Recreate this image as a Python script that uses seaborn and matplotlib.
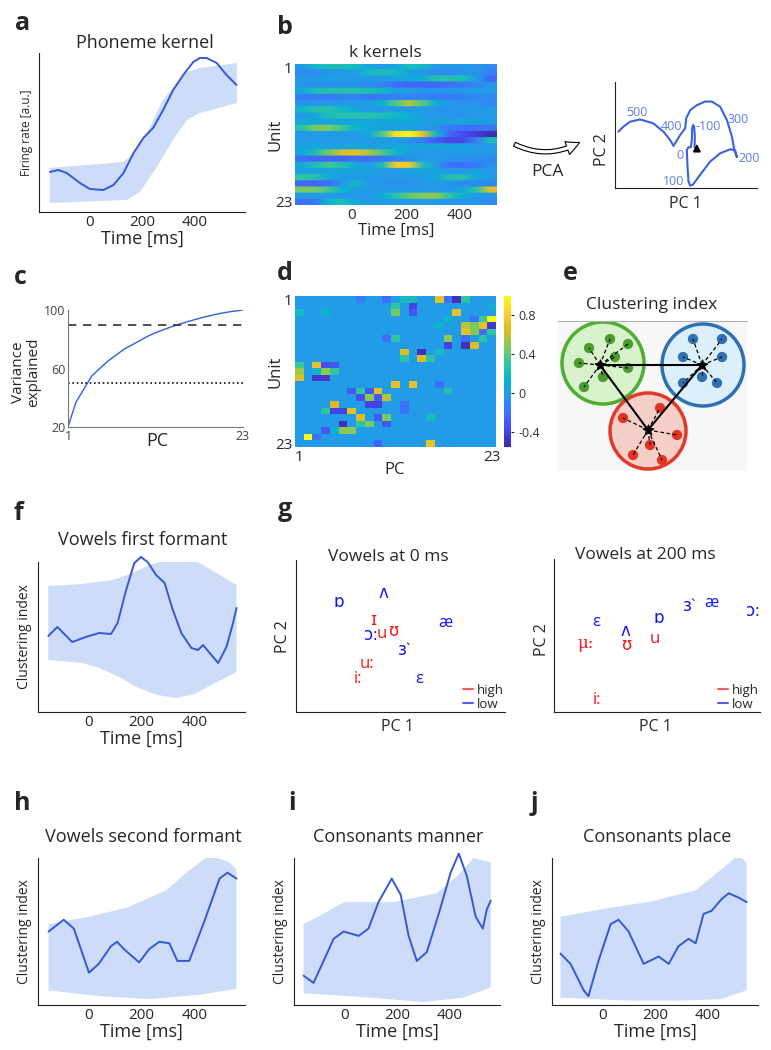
import numpy as np
import seaborn as sns
import matplotlib.pyplot as plt
from matplotlib.colors import LinearSegmentedColormap
from matplotlib.patches import Circle, FancyArrowPatch
from matplotlib.lines import Line2D

sns.set_style("white")
plt.rcParams['font.family'] = ['Open Sans', 'DejaVu Sans']

W, H = 771, 1050
LINE = '#3558d6'
BAND = '#cddcf8'
RED = '#ff1414'
BLUE = '#1414ff'

# ---------------- data ----------------
# a: phoneme kernel
a_time = [-149, -117, -85, -35, 3, 54, 92, 130, 168, 205, 242, 280, 318, 356, 394, 419, 445, 483, 520, 558]
a_rate = [40, 42, 39, 29, 23, 22, 27, 39, 59, 74, 84, 102, 122, 137, 150, 154, 154, 149, 137, 127]
a_up_time = [-149, 128, 154, 219, 279, 332, 370, 419, 559]
a_up = [44, 50, 55, 79, 112, 129, 140, 144, 149]
a_lo_time = [-149, 143, 192, 256, 317, 370, 419, 559]
a_lo = [9, 12, 20, 45, 72, 92, 99, 109]

# b: kernels of 23 units (columns every ~50 ms from -200 to 500)
kernel_map = [
    [-0.3, -0.05, 0.0, 0.0, -0.05, -0.25, -0.3, -0.2, 0.0, -0.05, -0.3, -0.3, -0.3, -0.35, -0.4],
    [-0.4, -0.4, -0.35, -0.3, -0.25, -0.05, 0.0, -0.05, -0.25, -0.35, -0.4, -0.4, -0.35, -0.35, -0.45],
    [-0.3, -0.3, -0.25, -0.3, -0.3, -0.3, -0.3, -0.25, -0.2, -0.15, 0.05, 0.05, 0.0, -0.3, -0.6],
    [-0.35, -0.35, -0.35, -0.35, -0.35, -0.4, -0.45, -0.55, -0.6, -0.6, -0.6, -0.55, -0.5, -0.4, -0.35],
    [-0.2, 0.0, 0.05, 0.05, 0.05, 0.0, -0.05, -0.25, -0.3, -0.35, -0.35, -0.3, -0.3, -0.3, -0.3],
    [-0.45, -0.5, -0.5, -0.45, -0.45, -0.5, -0.5, -0.45, -0.4, -0.45, -0.5, -0.5, -0.45, -0.4, -0.4],
    [-0.35, -0.35, -0.3, -0.3, -0.3, -0.25, -0.1, 0.2, 0.45, 0.2, -0.15, -0.3, -0.35, -0.35, -0.4],
    [-0.05, 0.05, 0.05, -0.05, -0.2, -0.3, -0.3, -0.3, -0.3, -0.3, -0.35, -0.35, -0.3, -0.3, -0.3],
    [-0.3, -0.2, 0.0, 0.05, 0.05, 0.05, 0.0, -0.05, -0.15, -0.3, -0.3, -0.35, -0.35, -0.3, -0.3],
    [-0.2, -0.2, -0.25, -0.25, -0.2, -0.2, -0.2, -0.2, -0.2, -0.25, -0.25, -0.25, -0.2, -0.25, -0.3],
    [0.05, 0.3, 0.3, 0.15, -0.1, -0.2, -0.25, -0.25, -0.25, -0.3, -0.35, -0.5, -0.55, -0.55, -0.5],
    [-0.3, -0.3, -0.3, -0.3, -0.3, -0.2, 0.2, 0.85, 1.0, 0.6, -0.1, -0.6, -0.75, -0.85, -0.95],
    [-0.3, -0.3, -0.3, -0.3, -0.3, -0.3, -0.3, -0.3, -0.35, -0.5, -0.65, -0.8, -0.75, -0.45, 0.0],
    [-0.25, -0.2, -0.25, -0.25, -0.2, -0.25, -0.25, -0.2, -0.25, -0.25, -0.2, -0.25, -0.25, -0.3, -0.3],
    [-0.2, 0.0, 0.3, 0.55, 0.6, 0.45, 0.2, -0.1, -0.25, -0.3, -0.3, -0.3, -0.3, -0.3, -0.3],
    [-0.55, -0.6, -0.6, -0.6, -0.55, -0.55, -0.5, -0.45, -0.35, -0.3, -0.3, -0.35, -0.35, -0.35, -0.4],
    [-0.2, 0.0, 0.15, 0.05, -0.2, -0.3, 0.0, 0.75, 0.7, 0.0, -0.3, -0.55, -0.55, -0.5, -0.35],
    [-0.25, -0.25, -0.2, -0.2, -0.25, -0.25, -0.3, -0.3, -0.25, -0.2, -0.25, -0.3, -0.3, -0.25, -0.3],
    [0.1, 0.05, -0.2, -0.3, -0.3, -0.3, -0.3, -0.3, -0.3, -0.3, -0.2, 0.05, 0.05, -0.2, -0.3],
    [-0.6, -0.6, -0.55, -0.35, -0.05, -0.3, -0.35, -0.35, -0.35, -0.3, -0.3, -0.35, -0.4, -0.4, -0.4],
    [0.3, 0.3, 0.15, -0.1, -0.25, -0.3, -0.3, -0.3, -0.3, -0.3, -0.3, -0.3, -0.2, 0.1, 0.6],
    [-0.3, -0.3, -0.3, -0.3, -0.3, -0.3, -0.2, 0.05, 0.25, 0.35, 0.35, 0.1, -0.15, -0.3, -0.3],
    [-0.55, -0.5, -0.1, 0.0, -0.2, -0.3, -0.3, -0.3, -0.3, -0.3, -0.3, -0.35, -0.35, -0.35, -0.4],
]

# b inset: trajectory in PC space and time labels
traj_pc1 = [583, 584, 582, 579, 576, 575, 572, 565, 560, 562, 565, 570, 578, 600, 630, 660, 690, 705, 710,
            702, 695, 680, 660, 635, 615, 590, 570, 558, 555, 540, 520, 510, 490, 460, 420, 390, 370, 355]
traj_pc2 = [123, 155, 185, 190, 180, 145, 123, 123, 115, 65, 20, 7, 10, 40, 80, 105, 117, 113, 93,
            115, 155, 205, 245, 261, 261, 250, 235, 210, 180, 160, 127, 145, 170, 195, 207, 200, 185, 170]
traj_labels = ['500', '400', '-100', '300', '0', '200', '100']
traj_lab_pc1 = [410, 515, 625, 715, 540, 745, 520]
traj_lab_pc2 = [227, 187, 187, 208, 97, 90, 20]

# c: cumulative variance explained
c_pc = list(range(1, 24))
c_var = [20, 37, 46, 55, 60, 65, 69, 73, 76, 79, 82, 84.5, 86.5, 88.5, 90.3, 92, 93.5, 95, 96.3, 97.5, 98.5, 99.3, 100]

# d: loadings (unit x PC), non-background cells
d_rows = [0, 0, 0, 0, 0, 0, 0, 0, 1, 1, 1, 2, 2, 2, 2, 2, 3, 3, 3, 3, 4, 4, 4, 4, 4,
          5, 5, 5, 5, 6, 6, 6, 6, 6, 7, 7, 7, 8, 8, 8, 9, 9, 9,
          10, 10, 10, 10, 11, 11, 11, 11, 12, 12, 12, 13, 13, 13,
          14, 14, 14, 14, 14, 15, 15, 15, 15, 16, 16, 16, 16, 17, 17, 17, 17, 17,
          18, 18, 18, 18, 19, 19, 19, 19, 20, 20, 20, 20, 21, 21, 22, 22]
d_cols = [7, 10, 12, 13, 16, 17, 18, 19, 11, 13, 22, 0, 3, 11, 13, 18, 17, 20, 21, 22, 16, 19, 20, 21, 22,
          19, 20, 21, 22, 10, 11, 17, 19, 21, 17, 19, 20, 12, 14, 16, 12, 14, 15,
          0, 2, 3, 4, 0, 2, 3, 4, 0, 2, 3, 11, 13, 16,
          6, 7, 8, 9, 17, 7, 8, 9, 10, 4, 8, 9, 12, 3, 4, 5, 6, 12,
          7, 9, 10, 15, 5, 7, 8, 10, 3, 4, 5, 6, 1, 2, 9, 15]
d_vals = [-0.15, -0.2, 0.2, 0.2, 0.7, -0.2, -0.5, 0.3, 0.3, -0.4, 0.1, 0.2, 0.15, 0.45, -0.3, 0.7, 0.15, -0.2, 0.35, 1.0,
          0.15, 0.6, 0.45, 0.7, -0.45,
          0.7, 0.5, -0.2, 0.3, -0.2, 0.3, 0.5, -0.2, 0.3, -0.4, -0.5, 0.65, 0.65, -0.5, 0.2, 0.3, 0.65, 0.3,
          0.35, 0.7, -0.35, -0.3, 0.55, 0.15, 0.5, 0.3, 0.65, -0.45, -0.45, 0.7, 0.7, -0.2,
          -0.3, 0.3, -0.3, 0.7, 0.25, -0.35, 0.5, -0.3, 0.6, 0.65, -0.4, -0.4, -0.2, 0.3, -0.4, -0.4, 0.7, -0.2,
          0.65, -0.3, 0.45, 0.2, -0.5, 0.3, 0.45, -0.3, -0.3, 0.15, 0.5, 0.5, 1.0, -0.2, -0.25, 0.7]

# e: clustering schematic (pixel coordinates)
clusters = {
    'green': dict(center=(600, 365), circle=(603, 363, 41), fill='#d8f2cb', edge='#4eae32', dot='#4a9c2c',
                  x=[589, 610, 628, 579, 615, 628, 603, 584], y=[348, 339, 344, 363, 357, 368, 377, 387]),
    'blue': dict(center=(702, 365), circle=(703, 365, 41), fill='#dcf0fb', edge='#2f6fb5', dot='#2f6fb5',
                 x=[693, 722, 683, 722, 702, 683, 717], y=[339, 339, 357, 357, 377, 383, 383]),
    'red': dict(center=(648, 430), circle=(648, 431, 38), fill='#f6cfc8', edge='#e23a2a', dot='#e03424',
                x=[623, 660, 677, 650, 633, 662], y=[418, 408, 435, 445, 455, 460]),
}

# f: vowels first formant
f_time = [-151, -117, -61, -10, 41, 85, 110, 142, 173, 198, 223, 255, 287, 318, 350, 388, 413, 432, 457, 489, 520, 545, 558]
f_ci = [76, 85, 70, 75, 79, 78, 89, 122, 149, 155, 150, 137, 129, 102, 79, 64, 62, 67, 59, 49, 65, 89, 104]
f_up_time = [-151, -23, 91, 167, 230, 293, 356, 419, 483, 558]
f_up = [126, 128, 132, 139, 147, 152, 154, 149, 139, 127]
f_lo_time = [-151, -23, 41, 117, 180, 260, 330, 400, 470, 558]
f_lo = [52, 49, 44, 35, 25, 17, 14, 18, 28, 40]

# g: vowels in PC space
g0_labels = ['ɒ', 'ʌ', 'ɪ', 'ɔ:', 'u', 'ʊ', 'æ', 'ɜ`', 'u:', 'i:', 'ε']
g0_pc1 = [43, 87, 78, 75, 85.5, 97, 149, 109, 71, 62, 123]
g0_pc2 = [109, 118, 91, 76, 78, 80, 89, 61, 48, 33, 33]
g0_height = ['low', 'low', 'high', 'low', 'high', 'high', 'low', 'low', 'high', 'high', 'low']
g1_labels = ['ε', 'ʊ', 'ʌ', 'u', 'ɒ', 'ɜ`', 'æ', 'ɔ:', 'μ:', 'i:']
g1_pc1 = [42, 72, 71, 101, 105, 136, 157, 199, 32, 43]
g1_pc2 = [90, 66, 80, 73, 93, 105, 109, 100, 69, 12]
g1_height = ['low', 'high', 'low', 'high', 'low', 'low', 'low', 'low', 'high', 'high']

# h, i, j: clustering index
h_time = [-150, -93, -55, 2, 39, 85, 108, 134, 191, 229, 267, 305, 335, 380, 437, 494, 524, 558]
h_ci = [0.50, 0.58, 0.52, 0.22, 0.28, 0.40, 0.43, 0.38, 0.29, 0.38, 0.43, 0.42, 0.30, 0.30, 0.57, 0.86, 0.90, 0.86]
h_up_time = [-150, 0, 142, 293, 369, 456, 532, 558]
h_up = [0.55, 0.60, 0.66, 0.78, 0.90, 1.02, 0.97, 0.92]
h_lo_time = [-150, 39, 229, 420, 558]
h_lo = [0.10, 0.06, 0.04, 0.07, 0.11]

i_time = [-154, -116, -78, -40, -2, 55, 92, 130, 180, 214, 244, 275, 313, 358, 403, 434, 464, 498, 525, 540, 555]
i_ci = [0.20, 0.15, 0.30, 0.45, 0.50, 0.47, 0.52, 0.70, 0.86, 0.75, 0.47, 0.30, 0.36, 0.62, 0.90, 1.03, 0.88, 0.60, 0.52, 0.65, 0.71]
i_up_time = [-154, -80, 0, 187, 350, 430, 490, 555]
i_up = [0.55, 0.62, 0.70, 0.70, 0.76, 0.88, 1.00, 0.97]
i_lo_time = [-154, 100, 300, 450, 555]
i_lo = [0.08, 0.05, 0.02, 0.05, 0.12]

j_time = [-158, -120, -70, -52, -14, 32, 62, 100, 157, 214, 252, 289, 327, 354, 384, 414, 452, 479, 517, 547]
j_ci = [0.35, 0.28, 0.10, 0.06, 0.30, 0.55, 0.58, 0.50, 0.28, 0.33, 0.28, 0.40, 0.45, 0.42, 0.62, 0.64, 0.72, 0.76, 0.73, 0.70]
j_up_time = [-158, 24, 175, 354, 450, 516, 547]
j_up = [0.60, 0.66, 0.70, 0.78, 0.92, 1.02, 0.97]
j_lo_time = [-158, 100, 300, 450, 547]
j_lo = [0.05, 0.03, 0.03, 0.04, 0.10]

parula = LinearSegmentedColormap.from_list('parula', [
    (0.2422, 0.1504, 0.6603), (0.2803, 0.2782, 0.9221), (0.2440, 0.4358, 0.9988),
    (0.1540, 0.5902, 0.9218), (0.0297, 0.7082, 0.8163), (0.1938, 0.7758, 0.6251),
    (0.5044, 0.7993, 0.3480), (0.8634, 0.7406, 0.1596), (0.9892, 0.8136, 0.1885),
    (0.9769, 0.9839, 0.0805)])

fig = plt.figure(figsize=(W / 100, H / 100), dpi=100)


def add_ax(x0, y0, x1, y1):
    return fig.add_axes([x0 / W, 1 - y1 / H, (x1 - x0) / W, (y1 - y0) / H])


def ftext(x, y, s, **kw):
    kw.setdefault('ha', 'center')
    kw.setdefault('va', 'center')
    return fig.text(x / W, 1 - y / H, s, **kw)


def time_panel(rect, t, v, ut, uv, lt, lv, ytop, ylab, ylab_size=10):
    ax = add_ax(*rect)
    ax.fill(np.r_[ut, lt[::-1]], np.r_[uv, lv[::-1]], color=BAND, lw=0)
    sns.lineplot(x=t, y=v, ax=ax, color=LINE, lw=1.4, estimator=None, sort=False)
    for ln in ax.lines:
        ln.set_clip_on(False)
    ax.set_xlim(-190, 590)
    ax.set_ylim(0, ytop)
    ax.set_xticks([0, 200, 400])
    ax.set_yticks([])
    ax.tick_params(axis='x', length=0, labelsize=11, pad=2)
    for s in ['top', 'right']:
        ax.spines[s].set_visible(False)
    for s in ['left', 'bottom']:
        ax.spines[s].set_color('#222222')
    ax.set_xlabel('Time [ms]', fontsize=13, labelpad=0)
    ax.set_ylabel(ylab, fontsize=ylab_size, labelpad=4)
    return ax


# --------- a ---------
time_panel((39, 53, 245, 212), a_time, a_rate, a_up_time, a_up, a_lo_time, a_lo, 159, 'Firing rate [a.u.]', 8.5)
ftext(145, 43, 'Phoneme kernel', fontsize=13)

# --------- b ---------
ax_b = add_ax(295, 64, 497, 205)
ax_b.imshow(np.repeat(np.array(kernel_map), 8, axis=0), aspect='auto', cmap=parula, vmin=-1, vmax=1,
            extent=[-210, 537, 23.5, 0.5], interpolation='bilinear')
ax_b.set_xticks([0, 200, 400])
ax_b.set_yticks([1, 23])
ax_b.set_yticklabels(['1', '23'])
ax_b.tick_params(labelsize=11, length=2, direction='in', pad=2)
for s in ax_b.spines.values():
    s.set_visible(False)
ax_b.set_xlabel('Time [ms]', fontsize=12, labelpad=0)
ax_b.set_ylabel('Unit', fontsize=12, labelpad=-6)
ftext(385, 53, 'k kernels', fontsize=12.5)

# PCA arrow
arrow = FancyArrowPatch((512 / W, 1 - 143 / H), (582 / W, 1 - 141 / H), transform=fig.transFigure,
                        connectionstyle='arc3,rad=0.28',
                        arrowstyle='simple,head_width=0.7,head_length=0.7,tail_width=0.22',
                        mutation_scale=14, fc='white', ec='black', lw=0.8)
fig.add_artist(arrow)
ftext(547, 172, 'PCA', fontsize=12.5)

ax_p = add_ax(615, 82, 757, 188)
sns.lineplot(x=traj_pc1, y=traj_pc2, ax=ax_p, color='#3a62e0', lw=1.5, sort=False, estimator=None)
for lab, x, y in zip(traj_labels, traj_lab_pc1, traj_lab_pc2):
    ax_p.text(x, y, lab, color='#5b7fe6', fontsize=9, ha='center', va='center')
ax_p.annotate('', xy=(590, 142), xytext=(590, 112),
              arrowprops=dict(arrowstyle='-|>', color='black', lw=1.2, mutation_scale=11))
ax_p.set_xlim(345, 770)
ax_p.set_ylim(0, 320)
ax_p.set_xticks([])
ax_p.set_yticks([65, 160, 255])
ax_p.tick_params(axis='y', direction='in', length=3, labelleft=False, color='#222')
for s in ['top', 'right']:
    ax_p.spines[s].set_visible(False)
for s in ['left', 'bottom']:
    ax_p.spines[s].set_color('#222222')
ftext(602, 150, 'PC 2', fontsize=11.5, rotation=90)
ftext(685, 204, 'PC 1', fontsize=11.5)

# --------- c ---------
ax_c = add_ax(68, 310, 243, 427)
sns.lineplot(x=c_pc, y=c_var, ax=ax_c, color='#2f5fe8', lw=1.0)
ax_c.axhline(90, ls=(0, (5, 4)), color='#333333', lw=1.2)
ax_c.axhline(50, ls=(0, (1, 1.6)), color='#111111', lw=1.2)
ax_c.set_xlim(1, 23)
ax_c.set_ylim(20, 100)
ax_c.set_xticks([1, 23])
ax_c.set_yticks([20, 60, 100])
ax_c.tick_params(labelsize=9, labelcolor='#444444', length=0, pad=2)
for s in ['top', 'right']:
    ax_c.spines[s].set_visible(False)
for s in ['left', 'bottom']:
    ax_c.spines[s].set_color('#777777')
ftext(157, 441, 'PC', fontsize=13)
ftext(26, 372, 'Variance\nexplained', fontsize=11, rotation=90, linespacing=1.05)

# --------- d ---------
loadings = np.zeros((23, 23))
loadings[d_rows, d_cols] = d_vals
ax_d = add_ax(295, 296, 496, 447)
cax = add_ax(504, 296, 511, 447)
sns.heatmap(loadings, ax=ax_d, cbar_ax=cax, cmap=parula, vmin=-0.55, vmax=1.0,
            xticklabels=False, yticklabels=False)
ax_d.set_xticks([0.5, 22.5])
ax_d.set_xticklabels(['1', '23'])
ax_d.set_yticks([0.5, 22.5])
ax_d.set_yticklabels(['1', '23'], rotation=0)
ax_d.tick_params(labelsize=11, length=0, pad=2)
ax_d.set_ylabel('Unit', fontsize=12, labelpad=-6)
ftext(395, 470, 'PC', fontsize=12)
cax.set_yticks([-0.4, 0, 0.4, 0.8])
cax.set_yticklabels(['-0.4', '0', '0.4', '0.8'])
cax.tick_params(labelsize=9, length=2, labelcolor='#333333')

# --------- e ---------
ax_e = add_ax(558, 321, 747, 471)
ax_e.set_facecolor('#f7f7f7')
ax_e.set_xlim(558, 747)
ax_e.set_ylim(471, 321)
for s in ['left', 'right', 'bottom']:
    ax_e.spines[s].set_visible(False)
ax_e.spines['top'].set_color('#b0b0b0')
ax_e.set_xticks([])
ax_e.set_yticks([])
for name, cl in clusters.items():
    cx, cy, r = cl['circle']
    ax_e.add_patch(Circle((cx, cy), r, fc=cl['fill'], ec=cl['edge'], lw=2.5, zorder=1))
    sns.scatterplot(x=cl['x'], y=cl['y'], ax=ax_e, color=cl['dot'], s=55, edgecolor='none', zorder=3)
    ccx, ccy = cl['center']
    for x, y in zip(cl['x'], cl['y']):
        ax_e.plot([ccx, x], [ccy, y], ls=(0, (3, 2)), color='black', lw=0.9, zorder=4)
    ax_e.scatter([ccx], [ccy], marker='*', s=60, color='black', zorder=5)
centers = [clusters['green']['center'], clusters['blue']['center'], clusters['red']['center']]
for k1, k2 in [(0, 1), (0, 2), (2, 1)]:
    ax_e.plot([centers[k1][0], centers[k2][0]], [centers[k1][1], centers[k2][1]], color='black', lw=1.5, zorder=4)
ftext(652, 305, 'Clustering index', fontsize=12.5)

# --------- f ---------
time_panel((38, 562, 245, 712), f_time, f_ci, f_up_time, f_up, f_lo_time, f_lo, 150, 'Clustering index', 10)
ftext(143, 540, 'Vowels first formant', fontsize=13)


# --------- g ---------
def vowel_panel(rect, labels, pc1, pc2, height, xmax, ymax):
    ax = add_ax(*rect)
    for lab, x, y, hgt in zip(labels, pc1, pc2, height):
        fam = ['DejaVu Serif'] if lab.startswith('μ') else ['Open Sans', 'DejaVu Sans']
        ax.text(x, y, lab, color=RED if hgt == 'high' else BLUE, fontsize=12, ha='center', va='center',
                family=fam)
    ax.set_xlim(0, xmax)
    ax.set_ylim(0, ymax)
    ax.set_xticks([])
    ax.set_yticks([])
    for s in ['top', 'right']:
        ax.spines[s].set_visible(False)
    for s in ['left', 'bottom']:
        ax.spines[s].set_color('#222222')
    handles = [Line2D([0], [0], color='#ff5a5a', lw=1.5), Line2D([0], [0], color='#5a5aff', lw=1.5)]
    ax.legend(handles, ['high', 'low'], loc='lower right', frameon=False, fontsize=9.5, handlelength=0.7,
              handletextpad=0.3, labelspacing=0.05, borderaxespad=0.0, borderpad=0.1)
    return ax


vowel_panel((296, 560, 505, 712), g0_labels, g0_pc1, g0_pc2, g0_height, 209, 152)
vowel_panel((554, 559, 760, 712), g1_labels, g1_pc1, g1_pc2, g1_height, 206, 153)
ftext(388, 557, 'Vowels at 0 ms', fontsize=12.5)
ftext(645, 555, 'Vowels at 200 ms', fontsize=12.5)
ftext(283, 637, 'PC 2', fontsize=11.5, rotation=90)
ftext(397, 727, 'PC 1', fontsize=11.5)
ftext(542, 640, 'PC 2', fontsize=11.5, rotation=90)
ftext(655, 727, 'PC 1', fontsize=11.5)

# --------- h, i, j ---------
time_panel((38, 858, 245, 1005), h_time, h_ci, h_up_time, h_up, h_lo_time, h_lo, 1, 'Clustering index', 10)
ftext(143, 837, 'Vowels second formant', fontsize=13)
time_panel((294, 858, 500, 1005), i_time, i_ci, i_up_time, i_up, i_lo_time, i_lo, 1, 'Clustering index', 10)
ftext(398, 837, 'Consonants manner', fontsize=13)
time_panel((552, 858, 758, 1005), j_time, j_ci, j_up_time, j_up, j_lo_time, j_lo, 1, 'Clustering index', 10)
ftext(657, 837, 'Consonants place', fontsize=13)

# panel letters
for lab, x, y in [('a', 23, 23), ('b', 285, 27), ('c', 20, 277), ('d', 285, 273), ('e', 570, 273),
                  ('f', 18, 513), ('g', 285, 510), ('h', 22, 803), ('i', 292, 803), ('j', 534, 803)]:
    ftext(x, y, lab, fontsize=18, fontweight='bold')

fig.savefig('out.png', dpi=100)
